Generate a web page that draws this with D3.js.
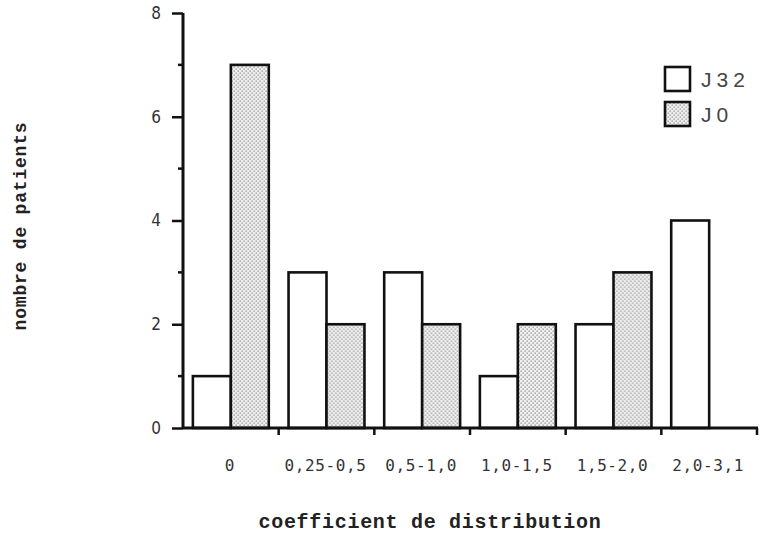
<!DOCTYPE html>
<html><head><meta charset="utf-8">
<script src="https://cdn.jsdelivr.net/npm/d3@7"></script>
<style>html,body{margin:0;padding:0;background:#fff;}svg{display:block;}</style>
</head><body>
<script>
const categories = ["0", "0,25-0,5", "0,5-1,0", "1,0-1,5", "1,5-2,0", "2,0-3,1"];
const seriesNames = ["J32", "J0"];
const j32Values = [1, 3, 3, 1, 2, 4];
const j0Values = [7, 2, 2, 2, 3, 0];
const yMajorTicks = [0, 2, 4, 6, 8];
const yMinorTicks = [1, 3, 5, 7];

const W = 766, H = 535;
const svg = d3.select("body").append("svg").attr("width", W).attr("height", H);

const defs = svg.append("defs");
const pat = defs.append("pattern").attr("id", "dots").attr("patternUnits", "userSpaceOnUse")
  .attr("width", 4).attr("height", 4);
pat.append("rect").attr("width", 4).attr("height", 4).attr("fill", "#efefef");
pat.append("rect").attr("x", 0.5).attr("y", 0.5).attr("width", 1.3).attr("height", 1.3).attr("fill", "#8f8f8f");
pat.append("rect").attr("x", 2.5).attr("y", 2.5).attr("width", 1.3).attr("height", 1.3).attr("fill", "#8f8f8f");

const x0 = 183, x1 = 757, yTop = 13, yBot = 428;
const x = d3.scaleBand().domain(categories).range([x0, x1]).paddingInner(0).paddingOuter(0);
const xs = d3.scaleBand().domain(seriesNames).range([0, x.bandwidth()]).paddingInner(0).paddingOuter(0.26);
const y = d3.scaleLinear().domain([0, 8]).range([yBot, yTop]);

const data = categories.map((c, i) => ({cat: c, vals: [
  {s: "J32", v: j32Values[i]}, {s: "J0", v: j0Values[i]}]}));

const fills = {J32: "#fff", J0: "url(#dots)"};

const g = svg.append("g");
g.selectAll("g.cat").data(data).join("g").attr("class", "cat")
  .attr("transform", d => `translate(${x(d.cat)},0)`)
  .selectAll("rect").data(d => d.vals.filter(e => e.v > 0)).join("rect")
  .attr("x", e => xs(e.s)).attr("width", xs.bandwidth())
  .attr("y", e => y(e.v)).attr("height", e => yBot - y(e.v))
  .attr("fill", e => fills[e.s]).attr("stroke", "#111").attr("stroke-width", 2.6);

// Y axis
const yAxis = d3.axisLeft(y).tickValues(yMajorTicks).tickSize(11).tickPadding(11).tickFormat(d3.format("d"));
const ya = svg.append("g").attr("transform", `translate(${x0},0)`).call(yAxis);
ya.select(".domain").attr("stroke", "#111").attr("stroke-width", 3).attr("d", `M0,${yTop}V${yBot}`);
ya.selectAll(".tick line").attr("stroke", "#111").attr("stroke-width", 2.5);
ya.selectAll(".tick text").attr("font-family", "'Liberation Sans Narrow','DejaVu Sans Condensed',sans-serif")
  .attr("font-stretch", "condensed").attr("font-size", 17).attr("fill", "#333");
ya.append("g").selectAll("line").data(yMinorTicks).join("line")
  .attr("x1", -5).attr("x2", 0).attr("y1", d => y(d)).attr("y2", d => y(d))
  .attr("stroke", "#111").attr("stroke-width", 2.5);

// X axis
const xa = svg.append("g").attr("transform", `translate(0,${yBot})`);
xa.append("line").attr("x1", x0).attr("x2", x1 + 1).attr("y1", 0).attr("y2", 0)
  .attr("stroke", "#111").attr("stroke-width", 3);
const bounds = categories.slice(1).map(c => x(c)).concat([x1]);
xa.selectAll("line.tk").data(bounds).join("line").attr("class", "tk")
  .attr("x1", d => d).attr("x2", d => d).attr("y1", 0).attr("y2", 7)
  .attr("stroke", "#111").attr("stroke-width", 2.5);
xa.selectAll("text").data(categories).join("text")
  .attr("x", d => x(d) + x.bandwidth() / 2 - 1).attr("y", 43)
  .attr("text-anchor", "middle")
  .attr("font-family", "'DejaVu Sans Mono',monospace").attr("font-size", 16)
  .attr("letter-spacing", 0.6).attr("fill", "#333").text(d => d);

// Axis titles
svg.append("text").attr("x", 430).attr("y", 528).attr("text-anchor", "middle")
  .attr("font-family", "'Liberation Mono','Courier New',monospace").attr("font-weight", "bold")
  .attr("font-size", 20).attr("letter-spacing", 0.7).attr("fill", "#222")
  .text("coefficient de distribution");
svg.append("text").attr("transform", "translate(26,226) rotate(-90)").attr("text-anchor", "middle")
  .attr("font-family", "'Liberation Mono','Courier New',monospace").attr("font-weight", "bold")
  .attr("font-size", 18).attr("letter-spacing", 0.8).attr("fill", "#222")
  .text("nombre de patients");

// Legend
const leg = svg.append("g").attr("transform", "translate(665,67)");
const li = leg.selectAll("g").data(seriesNames).join("g")
  .attr("transform", (d, i) => `translate(0,${i * 35})`);
li.append("rect").attr("x", 0).attr("y", 0).attr("width", 25).attr("height", 24)
  .attr("fill", d => fills[d]).attr("stroke", "#111").attr("stroke-width", 2.6);
li.append("text").attr("x", 36).attr("y", 20)
  .attr("font-family", "'Liberation Sans',Arial,sans-serif").attr("font-size", 21)
  .attr("letter-spacing", 5).attr("fill", "#444").text(d => d);
</script>
</body></html>
